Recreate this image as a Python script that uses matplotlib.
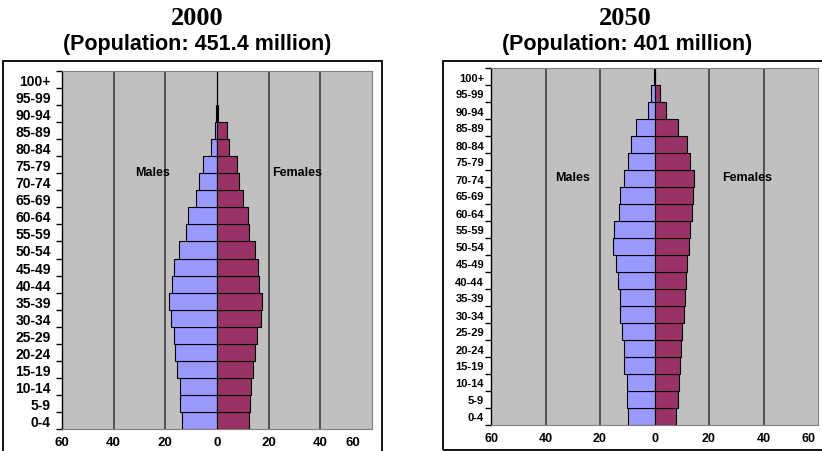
import matplotlib.pyplot as plt
import matplotlib.transforms as mtransforms
from matplotlib.patches import Rectangle

# age groups, bottom to top
ages = ['0-4', '5-9', '10-14', '15-19', '20-24', '25-29', '30-34', '35-39',
        '40-44', '45-49', '50-54', '55-59', '60-64', '65-69', '70-74',
        '75-79', '80-84', '85-89', '90-94', '95-99', '100+']

# population in millions
males_2000 = [13.7, 14.2, 14.2, 15.3, 16.1, 16.5, 18.0, 18.6, 17.4, 16.5,
              14.6, 11.9, 11.4, 8.0, 6.8, 5.5, 2.4, 0.9, 0.4, 0.1, 0.0]
females_2000 = [12.3, 12.8, 13.2, 14.0, 14.8, 15.3, 17.0, 17.3, 16.3, 15.7,
                14.6, 12.3, 11.9, 9.9, 8.6, 7.8, 4.7, 3.9, 0.4, 0.1, 0.0]
males_2050 = [9.8, 10.2, 10.2, 11.3, 11.3, 11.9, 12.5, 12.7, 13.5, 14.3,
              15.2, 14.7, 13.2, 12.5, 11.3, 9.8, 8.8, 6.7, 2.4, 1.2, 0.2]
females_2050 = [8.0, 8.6, 9.0, 9.3, 9.7, 10.2, 10.8, 11.2, 11.5, 11.9,
                12.6, 13.0, 13.8, 14.2, 14.5, 13.0, 11.9, 8.5, 4.1, 1.9, 0.2]

xticks = [-60, -40, -20, 0, 20, 40, 60]
xlabels = ['60', '40', '20', '0', '20', '40', '60']
gridx = [-40, -20, 20, 40]

MALE = '#9999FF'
FEMALE = '#993366'
BG = '#C0C0C0'

plt.rcParams['font.family'] = ['Liberation Sans', 'DejaVu Sans']
plt.rcParams['font.weight'] = 'bold'

fig = plt.figure(figsize=(8.22, 4.52), dpi=100)
W, H = 822.0, 452.0


def pyramid(rect, males, females, ylab_size, xlab_size, ypad, last_shift,
            males_xy, females_xy):
    ax = fig.add_axes(rect)
    ax.set_facecolor(BG)
    pos = range(len(ages))
    for g in gridx:
        ax.axvline(g, color='#333333', lw=1.1, zorder=1)
    ax.barh(pos, [-m for m in males], height=1.0, color=MALE,
            edgecolor='black', linewidth=0.8, zorder=2)
    ax.barh(pos, females, height=1.0, color=FEMALE,
            edgecolor='black', linewidth=0.8, zorder=2)
    ax.set_xlim(-60, 60)
    ax.set_ylim(-0.5, len(ages) - 0.5)
    ax.set_yticks(list(pos))
    ax.set_yticklabels(ages, fontsize=ylab_size, fontweight='bold')
    ax.set_yticks([p - 0.5 for p in range(len(ages) + 1)], minor=True)
    ax.tick_params(axis='y', which='major', length=0, pad=ypad)
    ax.tick_params(axis='y', which='minor', length=4, width=1, color='black',
                   direction='out')
    ax.set_xticks(xticks)
    ax.set_xticklabels(xlabels, fontsize=xlab_size, fontweight='bold')
    ax.tick_params(axis='x', length=0, pad=5)
    # the last "60" sits inside the plot edge, as in the original
    last = ax.get_xticklabels()[-1]
    last.set_ha('right')
    last.set_transform(last.get_transform() + mtransforms.ScaledTranslation(
        -last_shift / 100.0, 0, fig.dpi_scale_trans))
    ax.spines['left'].set_color('black')
    ax.spines['left'].set_linewidth(1.0)
    for s in ['right', 'bottom', 'top']:
        ax.spines[s].set_color('#808080')
        ax.spines[s].set_linewidth(0.8)
    ax.text(males_xy[0], males_xy[1], 'Males', ha='center', va='center',
            fontsize=9, fontweight='bold', zorder=3)
    ax.text(females_xy[0], females_xy[1], 'Females', ha='center', va='center',
            fontsize=9, fontweight='bold', zorder=3)
    return ax


pyramid([62 / W, 22 / H, 310 / W, 358 / H], males_2000, females_2000,
        10, 9.5, 8, 12, (-25, 14.55), (31, 14.55))
pyramid([491 / W, 26 / H, 327 / W, 357 / H], males_2050, females_2050,
        8, 9, 5, 3, (-30, 14.1), (34, 14.1))

# outer frames of the two chart objects
fig.patches.append(Rectangle((3 / W, -0.01), 379 / W, (452 - 62) / H + 0.01,
                             transform=fig.transFigure, fill=False,
                             edgecolor='black', lw=1.3))
fig.patches.append(Rectangle((443 / W, 1.5 / H), 385 / W, (451 - 62) / H - 0.001,
                             transform=fig.transFigure, fill=False,
                             edgecolor='black', lw=1.3))

# titles
fig.text(197 / W, 1 - 25 / H, '2000', ha='center', va='baseline',
         family='Liberation Serif', fontsize=19, fontweight='bold')
fig.text(197 / W, 1 - 50 / H, '(Population: 451.4 million)', ha='center',
         va='baseline', fontsize=15.5, fontweight='bold')
fig.text(625 / W, 1 - 25 / H, '2050', ha='center', va='baseline',
         family='Liberation Serif', fontsize=19, fontweight='bold')
fig.text(627 / W, 1 - 50 / H, '(Population: 401 million)', ha='center',
         va='baseline', fontsize=15.5, fontweight='bold')

fig.savefig('out.png', dpi=100, facecolor='white')
